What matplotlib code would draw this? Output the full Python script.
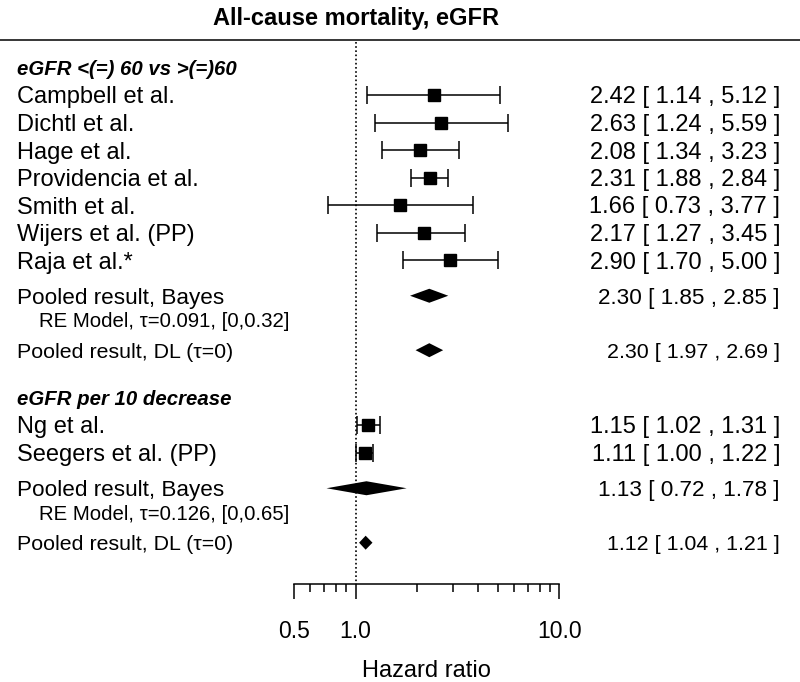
import matplotlib
matplotlib.use('Agg')
import matplotlib.pyplot as plt
from matplotlib.lines import Line2D
from matplotlib.ticker import FixedLocator, NullFormatter
import matplotlib.transforms as mtransforms

plt.rcParams['font.family'] = ['Liberation Sans', 'DejaVu Sans']

# group 1: eGFR <(=) 60 vs >(=)60
header1 = 'eGFR <(=) 60 vs >(=)60'
studies1 = ['Campbell et al.', 'Dichtl et al.', 'Hage et al.', 'Providencia et al.',
            'Smith et al.', 'Wijers et al. (PP)', 'Raja et al.*']
hr1 = [2.42, 2.63, 2.08, 2.31, 1.66, 2.17, 2.90]
lo1 = [1.14, 1.24, 1.34, 1.88, 0.73, 1.27, 1.70]
hi1 = [5.12, 5.59, 3.23, 2.84, 3.77, 3.45, 5.00]
bayes1 = (2.30, 1.85, 2.85)
dl1 = (2.30, 1.97, 2.69)
tau1 = 'RE Model, \u03c4=0.091, [0,0.32]'

# group 2: eGFR per 10 decrease
header2 = 'eGFR per 10 decrease'
studies2 = ['Ng et al.', 'Seegers et al. (PP)']
hr2 = [1.15, 1.11]
lo2 = [1.02, 1.00]
hi2 = [1.31, 1.22]
bayes2 = (1.13, 0.72, 1.78)
dl2 = (1.12, 1.04, 1.21)
tau2 = 'RE Model, \u03c4=0.126, [0,0.65]'

groups = [
    (0, header1, studies1, hr1, lo1, hi1, bayes1, dl1, tau1),
    (12, header2, studies2, hr2, lo2, hi2, bayes2, dl2, tau2),
]

fig = plt.figure(figsize=(8, 6.82), dpi=100)
ax = fig.add_axes([294.3 / 800, (682 - 584) / 682, 265 / 800, 584 / 682])
ax.set_xscale('log')
ax.set_xlim(0.5, 10)
ytop = -95 / 27.5
ybot = (584 - 95) / 27.5
ax.set_ylim(ybot, ytop)

lab = mtransforms.blended_transform_factory(fig.transFigure, ax.transData)
x_left = 17 / 800
x_indent = 39 / 800
x_right = 780 / 800
dh = 7 / 27.5


def fmt(e, l, h):
    return f'{e:.2f} [ {l:.2f} , {h:.2f} ]'


for start, header, names, est, lo, hi, bayes, dl, tau in groups:
    n = len(names)
    rows = [start + i for i in range(n)]
    ax.text(x_left, start - 1, header, transform=lab, fontsize=14.7,
            fontweight='bold', fontstyle='italic', va='center_baseline')
    err = [[e - l for e, l in zip(est, lo)], [h - e for e, h in zip(est, hi)]]
    ax.errorbar(est, rows, xerr=err, fmt='s', color='black', ms=8,
                elinewidth=1.1, capsize=6.8, capthick=1.1)
    for r, name, e, l, h in zip(rows, names, est, lo, hi):
        ax.text(x_left, r, name, transform=lab, fontsize=17, va='center_baseline')
        ax.text(x_right, r, fmt(e, l, h), transform=lab, fontsize=17,
                ha='right', va='center_baseline')

    rb = start + n + 0.3
    rre = start + n + 1.18
    rdl = start + n + 2.28
    for r, (e, l, h), fs, lbl in [(rb, bayes, 16.2, 'Pooled result, Bayes'),
                                  (rdl, dl, 15.4, 'Pooled result, DL (\u03c4=0)')]:
        ax.fill([l, e, h, e], [r, r - dh, r, r + dh], color='black', lw=0)
        ax.text(x_left, r, lbl, transform=lab, fontsize=fs, va='center_baseline')
        ax.text(x_right, r, fmt(e, l, h), transform=lab, fontsize=fs,
                ha='right', va='center_baseline')
    ax.text(x_indent, rre, tau, transform=lab, fontsize=14.7, va='center_baseline')

ax.plot([1, 1], [(42 - 95) / 27.5, ybot], ls=(0, (1, 1.5)), color='black', lw=1.2,
        clip_on=False)

for s in ['top', 'left', 'right']:
    ax.spines[s].set_visible(False)
ax.spines['bottom'].set_linewidth(1.1)
ax.set_yticks([])
ax.xaxis.set_major_locator(FixedLocator([0.5, 1, 10]))
ax.xaxis.set_minor_locator(FixedLocator([0.6, 0.7, 0.8, 0.9, 2, 3, 4, 5, 6, 7, 8, 9]))
ax.xaxis.set_minor_formatter(NullFormatter())
ax.set_xticklabels(['0.5', '1.0', '10.0'])
ax.tick_params(axis='x', which='major', length=10.8, width=1.1, pad=14.8, labelsize=16.5)
ax.tick_params(axis='x', which='minor', length=5.4, width=1.1)
ax.set_xlabel('Hazard ratio', fontsize=17, labelpad=12.5)

fig.text(356 / 800, 1 - 16 / 682, 'All-cause mortality, eGFR', fontsize=17,
         fontweight='bold', ha='center', va='center_baseline')
fig.add_artist(Line2D([0, 1], [1 - 40 / 682] * 2, transform=fig.transFigure,
                      color='black', lw=1.1))

fig.savefig('out.png', dpi=100)
